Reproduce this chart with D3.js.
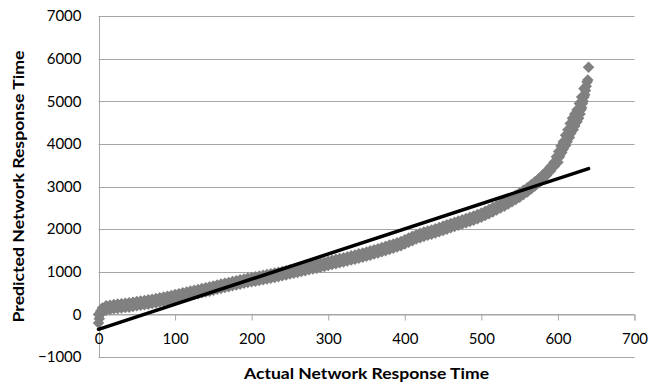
<!DOCTYPE html>
<html>
<head>
<meta charset="utf-8">
<script src="https://cdn.jsdelivr.net/npm/d3@7"></script>
<style>
  html, body { margin: 0; padding: 0; background: #fff; }
  svg { display: block; }
  text { font-family: Lato, "Open Sans", "Noto Sans", sans-serif; fill: #000; }
</style>
</head>
<body>
<svg id="chart" width="649" height="385"></svg>
<script>
// ---- data ----
// main body of the scatter: each x carries an upper and a lower point of the band
const xValues = [0,5,10,15,20,25,30,35,40,45,50,55,60,65,70,75,80,85,90,95,100,
  105,110,115,120,125,130,135,140,145,150,155,160,165,170,175,180,185,190,195,200,
  205,210,215,220,225,230,235,240,245,250,255,260,265,270,275,280,285,290,295,300,
  305,310,315,320,325,330,335,340,345,350,355,360,365,370,375,380,385,390,395,400,
  405,410,415,420,425,430,435,440,445,450,455,460,465,470,475,480,485,490,495,500,
  505,510,515,520,525,530,535,540,545,550,555,560,565,570,575,580,585,590,595,600];
const yUpper = [0,150,200,215,230,240,250,260,270,285,300,312,325,340,355,370,390,405,425,445,465,
  485,505,525,545,565,585,605,625,645,665,690,710,730,750,770,790,810,830,850,865,
  880,898,915,932,950,968,986,1005,1025,1045,1065,1085,1105,1125,1145,1165,1185,1205,1225,1245,
  1270,1290,1310,1330,1350,1375,1395,1420,1440,1465,1490,1515,1540,1570,1595,1625,1650,1680,1710,1750,
  1790,1830,1870,1900,1930,1955,1980,2010,2040,2070,2100,2130,2160,2190,2220,2250,2280,2310,2345,2380,
  2420,2460,2505,2550,2595,2640,2690,2740,2795,2850,2910,2970,3040,3110,3190,3270,3360,3460,3570,3670];
const yLower = [-200,50,100,115,130,140,150,160,170,185,200,212,225,240,255,270,290,305,325,345,365,
  385,405,425,445,465,485,505,525,545,565,590,610,630,650,670,690,710,730,750,765,
  780,798,815,832,850,868,886,905,925,945,965,985,1005,1025,1045,1065,1085,1105,1125,1145,
  1170,1190,1210,1230,1250,1275,1295,1320,1340,1365,1390,1415,1440,1470,1495,1525,1550,1580,1610,1650,
  1690,1730,1770,1800,1830,1855,1880,1910,1940,1970,2000,2030,2060,2090,2120,2150,2180,2210,2245,2280,
  2320,2360,2405,2450,2495,2540,2590,2640,2695,2750,2810,2870,2940,3010,3090,3170,3260,3360,3470,3570];
// extra points: the first few values and the steep tail
const extraX = [1,2,3,602,603,605,606,607,608,610,611,612,613,615,616,617,618,620,621,622,623,625,626,627,628,629,630,631,632,633,634,635,636,637,638,639,640,
  598,601,604,607,610,613,616,619,622,625,628,631,634];
const extraY = [-100,0,80,3700,3760,3800,3870,3880,3950,3960,4050,4050,4140,4150,4250,4250,4340,4330,4450,4420,4560,4520,4600,4600,4700,4700,4800,4850,4950,5000,5100,5150,5250,5350,5450,5500,5800,
  3700,3820,3950,4050,4200,4330,4480,4600,4700,4800,4950,5100,5300];
const trendX = [0, 640];
const trendY = [-350, 3420];
const xTicks = [0,100,200,300,400,500,600,700];
const yTicks = [-1000,0,1000,2000,3000,4000,5000,6000,7000];
const xTitle = "Actual Network Response Time";
const yTitle = "Predicted Network Response Time";

// ---- layout ----
const svg = d3.select("#chart");
const plotLeft = 98.5, plotRight = 634.5, plotTop = 16, plotBottom = 357;

const x = d3.scaleLinear().domain([0, 700]).range([plotLeft, plotRight]);
const y = d3.scaleLinear().domain([-1000, 7000]).range([plotBottom, plotTop]);

const gridColor = "#a6a6a6";

// horizontal gridlines
svg.append("g").selectAll("line").data(yTicks).join("line")
  .attr("x1", plotLeft).attr("x2", plotRight)
  .attr("y1", d => Math.round(y(d)) + 0.5).attr("y2", d => Math.round(y(d)) + 0.5)
  .attr("stroke", gridColor).attr("stroke-width", 1);

// vertical axis line
svg.append("line")
  .attr("x1", Math.round(plotLeft) + 0.5).attr("x2", Math.round(plotLeft) + 0.5)
  .attr("y1", Math.round(y(7000)) + 0.5).attr("y2", Math.round(y(-1000)) + 0.5)
  .attr("stroke", gridColor).attr("stroke-width", 1);

// y tick labels
const yAxis = d3.axisLeft(y).tickValues(yTicks).tickSize(0).tickPadding(17).tickFormat(d3.format("d"));
const gy = svg.append("g").attr("transform", `translate(${plotLeft},0)`).call(yAxis);
gy.select(".domain").remove();
gy.selectAll("text").style("font-size", "15px").style("font-family", "Lato, 'Open Sans', sans-serif").attr("fill", "#000");

// x axis at y = 0 with ticks hanging down
const y0 = Math.round(y(0)) + 0.5;
const xAxis = d3.axisBottom(x).tickValues(xTicks).tickSize(6).tickPadding(13).tickFormat(d3.format("d"));
const gx = svg.append("g").attr("transform", `translate(0,${y0})`).call(xAxis);
gx.select(".domain").attr("stroke", gridColor);
gx.selectAll(".tick line").attr("stroke", gridColor);
gx.selectAll("text").style("font-size", "15px").style("font-family", "Lato, 'Open Sans', sans-serif").attr("fill", "#000");

// scatter points (diamonds)
const pts = [];
xValues.forEach((v, i) => { pts.push([v, yUpper[i]]); pts.push([v, yLower[i]]); });
extraX.forEach((v, i) => pts.push([v, extraY[i]]));
const sym = d3.symbol().type(d3.symbolDiamond2).size(85);
svg.append("g").selectAll("path").data(pts).join("path")
  .attr("d", sym)
  .attr("transform", d => `translate(${x(d[0])},${y(d[1])})`)
  .attr("fill", "#808080");

// trend line
const line = d3.line().x(d => x(d[0])).y(d => y(d[1]));
svg.append("path")
  .datum(trendX.map((v, i) => [v, trendY[i]]))
  .attr("d", line)
  .attr("fill", "none").attr("stroke", "#000").attr("stroke-width", 3.5).attr("stroke-linecap", "round");

// axis titles
svg.append("text")
  .attr("x", (plotLeft + plotRight) / 2).attr("y", 379)
  .attr("text-anchor", "middle")
  .style("font-weight", "bold").style("font-size", "15.5px")
  .attr("textLength", 245).attr("lengthAdjust", "spacingAndGlyphs")
  .text(xTitle);

svg.append("text")
  .attr("transform", `translate(24,${(plotTop + plotBottom) / 2}) rotate(-90)`)
  .attr("text-anchor", "middle")
  .style("font-weight", "bold").style("font-size", "15.5px")
  .attr("textLength", 272).attr("lengthAdjust", "spacingAndGlyphs")
  .text(yTitle);
</script>
</body>
</html>
